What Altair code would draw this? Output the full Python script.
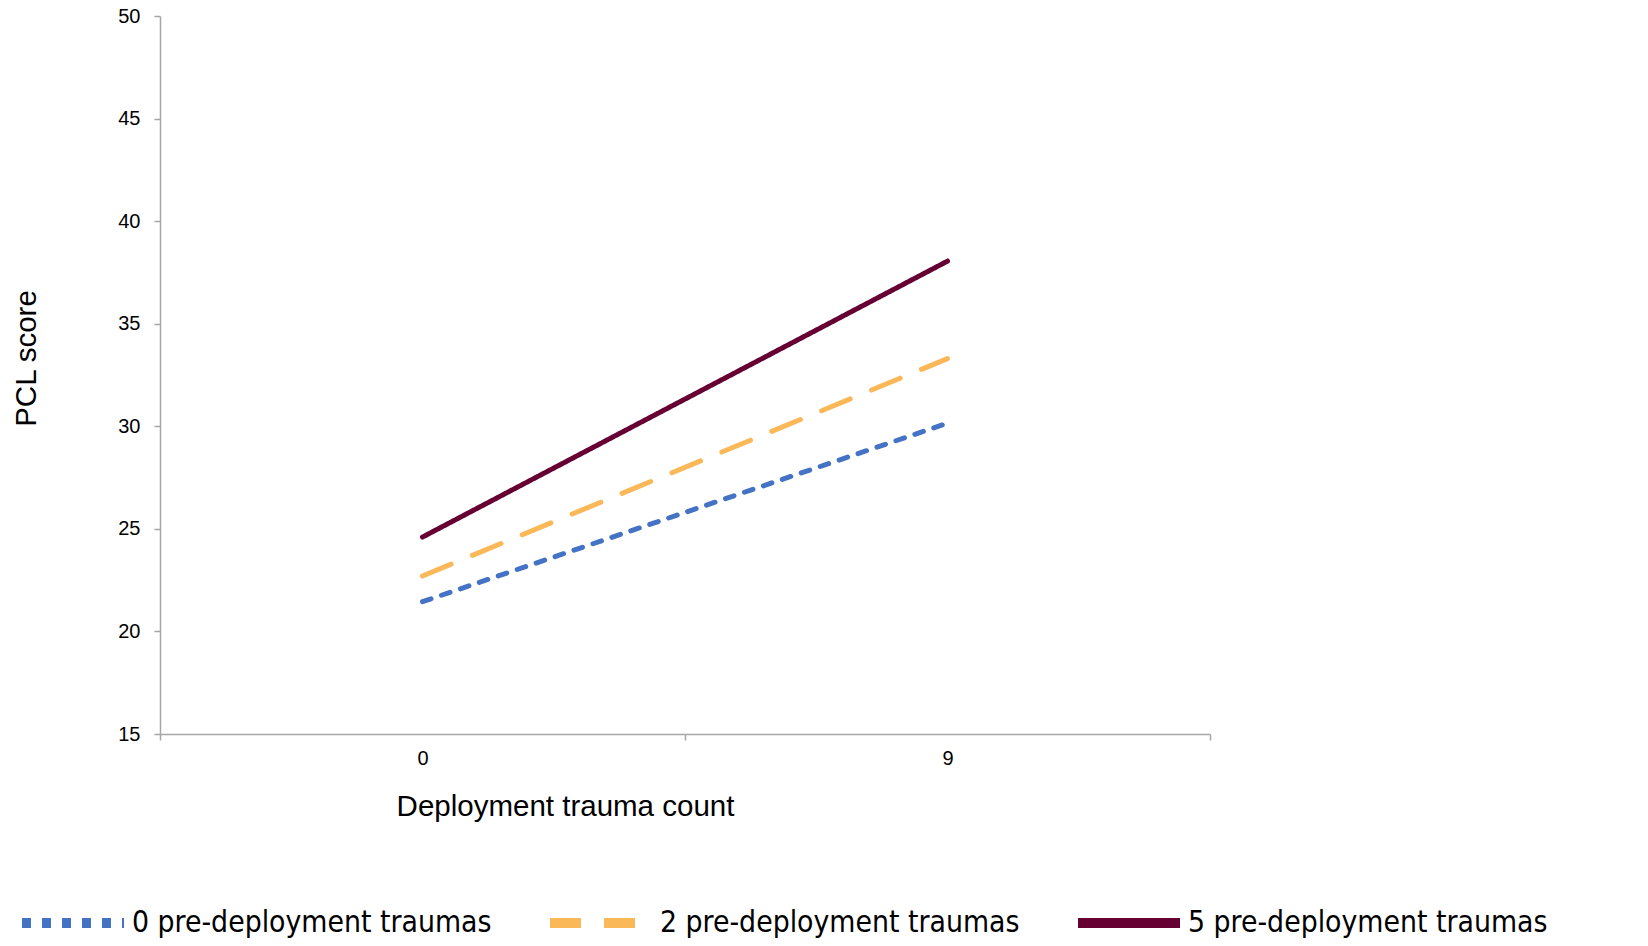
import altair as alt
import pandas as pd

# ---- data ----
x_values = [0, 9]
series_names = ["0 pre-deployment traumas", "2 pre-deployment traumas", "5 pre-deployment traumas"]
blue_vals = [21.45, 30.15]
orange_vals = [22.7, 33.3]
maroon_vals = [24.6, 38.05]
y_ticks = [15, 20, 25, 30, 35, 40, 45, 50]
x_tick_values = [-4.5, 0, 4.5, 9, 13.5]

colors = ["#4472C4", "#FBB859", "#660033"]
dashes = [[9, 11], [31, 23], [1, 0]]

rows = []
for name, vals in zip(series_names, [blue_vals, orange_vals, maroon_vals]):
    for xv, yv in zip(x_values, vals):
        rows.append({"x": xv, "y": yv, "series": name})
df = pd.DataFrame(rows)

AXIS_GRAY = "#A6A6A6"
FONT = "Liberation Sans"

legend = alt.Legend(
    title=None,
    orient="none",
    direction="horizontal",
    legendX=-143,
    legendY=851,
    symbolType="stroke",
    symbolSize=10404,
    symbolStrokeWidth=10,
    labelFont="'DejaVu Sans Condensed', 'Liberation Sans'",
    labelFontSize=29.8,
    labelColor="#000000",
    labelLimit=700,
    labelOffset=3,
    columnPadding=38,
)

chart = alt.Chart(df).mark_line(strokeWidth=5, strokeCap="round").encode(
    x=alt.X(
        "x:Q",
        scale=alt.Scale(domain=[-4.5, 13.5], nice=False, zero=False),
        axis=alt.Axis(
            values=x_tick_values,
            title="Deployment trauma count",
            grid=False,
            labelExpr="datum.value == 0 || datum.value == 9 ? datum.label : ''",
            tickOpacity={"condition": {"test": "datum.value == 0 || datum.value == 9", "value": 0}, "value": 1},
            tickSize=6,
            labelPadding=8,
            titleX=405,
            titleY=72,
            titleAlign="center",
            titleBaseline="middle",
        ),
    ),
    y=alt.Y(
        "y:Q",
        scale=alt.Scale(domain=[15, 50], nice=False, zero=False),
        axis=alt.Axis(
            values=y_ticks,
            title="PCL score",
            grid=False,
            tickSize=6,
            labelPadding=14,
            titleX=-134,
            titleY=342,
            titleAngle=270,
            titleAlign="center",
            titleBaseline="middle",
        ),
    ),
    color=alt.Color("series:N", scale=alt.Scale(domain=series_names, range=colors), legend=legend),
    strokeDash=alt.StrokeDash("series:N", scale=alt.Scale(domain=series_names, range=dashes), legend=legend),
).properties(
    width=1050,
    height=718,
    background="white",
    autosize=alt.AutoSizeParams(type="none"),
    padding={"left": 160, "top": 16, "right": 438, "bottom": 212},
).configure_view(
    stroke=None
).configure_axis(
    labelFont=FONT,
    labelFontSize=20,
    labelColor="#000000",
    titleFont=FONT,
    titleFontSize=29.5,
    titleFontWeight="normal",
    titleColor="#000000",
    domainColor=AXIS_GRAY,
    domainWidth=1.5,
    tickColor=AXIS_GRAY,
    tickWidth=1.5,
)

chart.save("out.html", embed_options={"renderer": "svg", "actions": False})
